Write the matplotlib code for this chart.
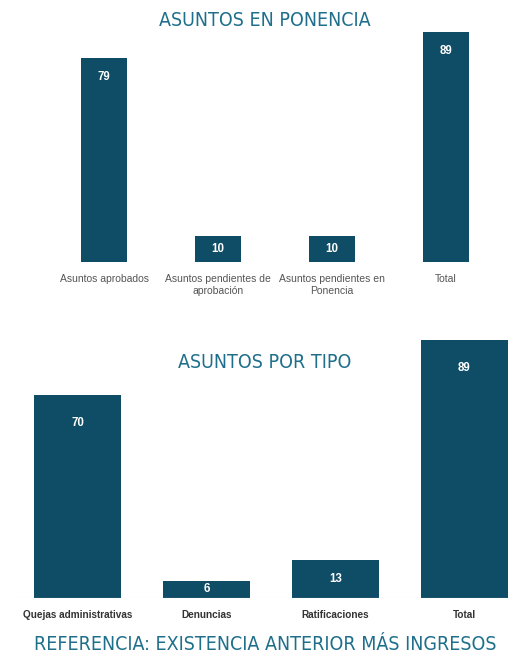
import matplotlib.pyplot as plt

# datos
cat_ponencia = ["Asuntos aprobados", "Asuntos pendientes de\naprobación",
                "Asuntos pendientes en\nPonencia", "Total"]
val_ponencia = [79, 10, 10, 89]

cat_tipo = ["Quejas administrativas", "Denuncias", "Ratificaciones", "Total"]
val_tipo = [70, 6, 13, 89]

bar_color = "#0f4c66"
title_color = "#1f6f8b"
W, H = 515, 658

fig = plt.figure(figsize=(W / 100, H / 100), dpi=100)
fig.patch.set_facecolor("white")


def px_axes(top, bottom):
    # ejes a lo ancho de la figura, entre dos alturas en pixeles
    return fig.add_axes([0, (H - bottom) / H, 1, (bottom - top) / H])


def clean(ax):
    for s in ax.spines.values():
        s.set_visible(False)
    ax.set_yticks([])
    ax.tick_params(axis="x", length=0)


# grafico superior
ax1 = px_axes(32, 262)
x1 = range(len(cat_ponencia))
ax1.bar(x1, val_ponencia, width=0.40, color=bar_color)
ax1.set_xlim(-104 / 114, (W - 104) / 114)
ax1.set_ylim(0, 89)
clean(ax1)
ax1.set_xticks(list(x1))
ax1.set_xticklabels(cat_ponencia, fontsize=7.5, color="#555555",
                    linespacing=1.15, family="Liberation Sans")
ax1.tick_params(axis="x", pad=9)
for i, v in enumerate(val_ponencia):
    y = v / 2 if v < 20 else v - 7.5
    ax1.text(i, y, str(v), ha="center", va="center", color="white",
             fontsize=8.3, fontweight="bold", family="Liberation Sans")

# grafico inferior
ax2 = px_axes(340, 598)
x2 = range(len(cat_tipo))
ax2.bar(x2, val_tipo, width=0.67, color=bar_color)
ax2.set_xlim(-77.5 / 129, (W - 77.5) / 129)
ax2.set_ylim(0, 89)
clean(ax2)
ax2.axhline(0, xmin=12 / W, xmax=1, color="#dddddd", lw=0.8)
ax2.set_xticks(list(x2))
ax2.set_xticklabels(cat_tipo, fontsize=7.2, color="#333333",
                    fontweight="bold", family="Liberation Sans")
ax2.tick_params(axis="x", pad=9)
for i, v in enumerate(val_tipo):
    y = v / 2 if v < 20 else v - 9.5
    ax2.text(i, y, str(v), ha="center", va="center", color="white",
             fontsize=8.3, fontweight="bold", family="Liberation Sans")

# titulos
tfont = dict(family="DejaVu Sans", stretch="condensed", color=title_color,
             ha="center", va="center")
fig.text(265 / W, 1 - 20 / H, "ASUNTOS EN PONENCIA", fontsize=14, **tfont)
fig.text(265 / W, 1 - 362 / H, "ASUNTOS POR TIPO", fontsize=14, **tfont)
fig.text(265 / W, 1 - 644 / H, "REFERENCIA: EXISTENCIA ANTERIOR MÁS INGRESOS",
         fontsize=14, **tfont)

fig.savefig("out.png", dpi=100)
